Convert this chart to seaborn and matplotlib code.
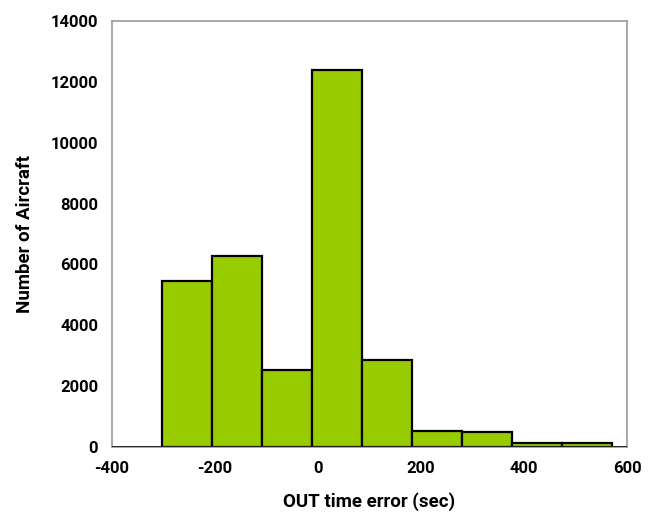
import matplotlib
matplotlib.use("Agg")
import matplotlib.pyplot as plt
import seaborn as sns
import numpy as np

bin_edges = [-303, -206, -109, -12, 85, 182, 279, 376, 474, 570]
counts = [5445, 6277, 2521, 12390, 2849, 516, 483, 131, 131]
x_ticks = [-400, -200, 0, 200, 400, 600]
y_ticks = [0, 2000, 4000, 6000, 8000, 10000, 12000, 14000]

sns.set_style("white")
plt.rcParams['font.family'] = ['Roboto', 'DejaVu Sans']
plt.rcParams['text.color'] = 'black'
plt.rcParams['axes.labelcolor'] = 'black'

centers = [(bin_edges[i] + bin_edges[i + 1]) / 2 for i in range(len(counts))]

fig = plt.figure(figsize=(6.5, 5.14), dpi=100)
ax = fig.add_axes([112 / 650, 1 - 447 / 514, (627 - 112) / 650, (447 - 21) / 514])

sns.histplot(x=centers, weights=counts, bins=bin_edges, ax=ax,
             color="#99CC00", edgecolor="black", linewidth=1.6, alpha=1)
ax.axhline(0, color="black", lw=1.8, zorder=5)

ax.set_xlim(-400, 600)
ax.set_ylim(0, 14000)
ax.set_xticks(x_ticks)
ax.set_yticks(y_ticks)
ax.set_xticklabels([str(t) for t in x_ticks], fontweight="bold", fontsize=12)
ax.set_yticklabels([str(t) for t in y_ticks], fontweight="bold", fontsize=12)
ax.set_xlabel("OUT time error (sec)", fontweight="bold", fontsize=13.5, labelpad=12)
ax.set_ylabel("Number of Aircraft", fontweight="bold", fontsize=13.5, labelpad=12)

for s in ax.spines.values():
    s.set_color("#999999")
    s.set_linewidth(1.2)
ax.tick_params(axis="both", direction="inout", length=10, width=1, color="#999999",
               labelcolor="black", pad=5)

fig.savefig("out.png", dpi=100)
